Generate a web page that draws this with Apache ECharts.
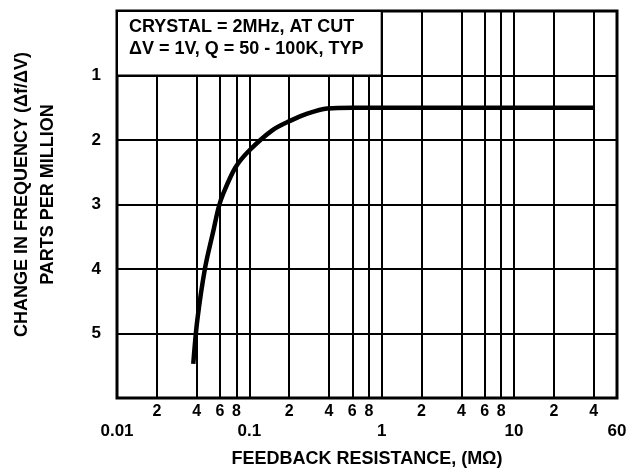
<!DOCTYPE html>
<html>
<head>
<meta charset="utf-8">
<script src="https://cdn.jsdelivr.net/npm/echarts@6/dist/echarts.min.js"></script>
<style>
  html, body { margin: 0; padding: 0; background: #fff; }
  #main { width: 639px; height: 470px; }
</style>
</head>
<body>
<div id="main"></div>
<script>
// feedback resistance (MOhm) vs change in frequency (ppm)
var resistance = [0.0377, 0.0404, 0.0464, 0.0537, 0.0585, 0.0638, 0.0783, 0.099, 0.149, 0.205, 0.274, 0.388, 0.6, 1, 5, 40];
var ppm = [5.47, 4.80, 3.97, 3.39, 3.05, 2.82, 2.43, 2.17, 1.85, 1.70, 1.59, 1.51, 1.50, 1.50, 1.50, 1.50];

var decadeLabels = [0.01, 0.1, 1, 10, 60];
var minorLabels = [0.02, 0.04, 0.06, 0.08, 0.2, 0.4, 0.6, 0.8, 2, 4, 6, 8, 20, 40];
var gridX = [0.02, 0.04, 0.06, 0.08, 0.1, 0.2, 0.4, 0.6, 0.8, 1, 2, 4, 6, 8, 10, 20, 40];
var yTicks = [1, 2, 3, 4, 5];

var noteText = 'CRYSTAL = 2MHz, AT CUT\n\u0394V = 1V, Q = 50 - 100K, TYP';

var font = '"Liberation Sans", Arial, sans-serif';
var chart = echarts.init(document.getElementById('main'));

var points = [];
for (var i = 0; i < resistance.length; i++) {
    points.push([resistance[i], ppm[i]]);
}

chart.setOption({
    animation: false,
    textStyle: { fontFamily: font },
    grid: {
        left: 117, right: 22, top: 11, bottom: 72,
        outerBoundsMode: 'none',
        containLabel: false,
        show: true, borderColor: '#000', borderWidth: 3,
        backgroundColor: 'transparent'
    },
    xAxis: [
        {
            type: 'log', logBase: 10, min: 0.01, max: 60,
            position: 'bottom',
            name: 'FEEDBACK RESISTANCE, (M\u03A9)',
            nameLocation: 'middle', nameGap: 52,
            nameTextStyle: { color: '#000', fontWeight: 'bold', fontSize: 18, fontFamily: font },
            axisLine: { show: false },
            axisTick: { show: false },
            splitLine: { show: false },
            axisLabel: {
                customValues: decadeLabels,
                margin: 25, color: '#000', fontWeight: 'bold', fontSize: 17, fontFamily: font,
                formatter: function (v) { return String(v); }
            }
        },
        {
            type: 'log', logBase: 10, min: 0.01, max: 60,
            position: 'bottom',
            axisLine: { show: false },
            axisTick: { show: false, customValues: gridX },
            splitLine: { show: true, lineStyle: { color: '#000', width: 2 } },
            axisLabel: {
                customValues: minorLabels,
                margin: 6, color: '#000', fontWeight: 'bold', fontSize: 16, fontFamily: font,
                formatter: function (v) { return String(v).replace(/0|\./g, ''); }
            }
        }
    ],
    yAxis: {
        type: 'value', min: 0, max: 6, interval: 1, inverse: true,
        name: 'CHANGE IN FREQUENCY (\u0394f/\u0394V)\nPARTS PER MILLION',
        nameLocation: 'middle', nameGap: 56, nameRotate: 90,
        nameTextStyle: {
            color: '#000', fontWeight: 'bold', fontSize: 18, lineHeight: 26, fontFamily: font,
            padding: [0, 0, 0, 20]
        },
        axisLine: { show: false },
        axisTick: { show: false },
        splitLine: { show: true, lineStyle: { color: '#000', width: 2 } },
        axisLabel: {
            margin: 16, color: '#000', fontWeight: 'bold', fontSize: 17, fontFamily: font,
            formatter: function (v) { return yTicks.indexOf(v) >= 0 ? String(v) : ''; }
        }
    },
    series: [{
        type: 'line',
        xAxisIndex: 0,
        data: points,
        smooth: 0.3,
        symbol: 'none',
        lineStyle: { color: '#000', width: 4.5 },
        markArea: {
            silent: true,
            itemStyle: { color: '#fff', borderColor: '#000', borderWidth: 2 },
            label: {
                show: true, position: 'insideTopLeft', distance: 0, offset: [13, 6],
                formatter: noteText,
                color: '#000', fontWeight: 'bold', fontSize: 18, lineHeight: 22, fontFamily: font
            },
            data: [[{ coord: [0.01, 0] }, { coord: [1, 1] }]]
        }
    }]
});
</script>
</body>
</html>
